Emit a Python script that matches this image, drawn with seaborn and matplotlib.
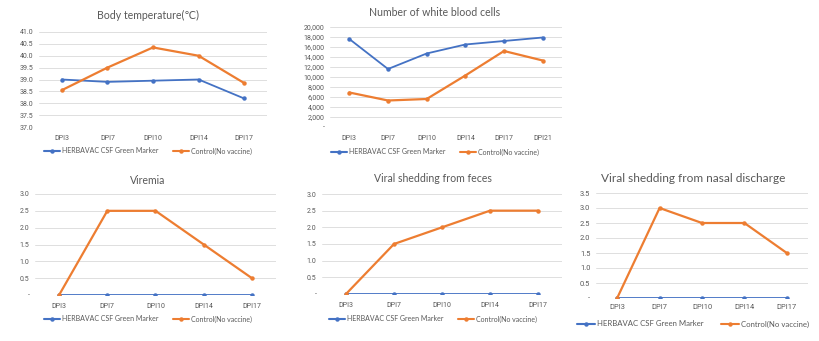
import matplotlib
matplotlib.use("Agg")
import matplotlib.pyplot as plt
import seaborn as sns
import pandas as pd

sns.set_theme(style="white")
plt.rcParams["font.family"] = ["Lato", "DejaVu Sans"]

# ---- data ----
days5 = ["DPI3", "DPI7", "DPI10", "DPI14", "DPI17"]
days6 = ["DPI3", "DPI7", "DPI10", "DPI14", "DPI17", "DPI21"]
series_names = ["HERBAVAC CSF Green Marker", "Control(No vaccine)"]

temp_vac = [39.0, 38.9, 38.95, 39.0, 38.2]
temp_ctl = [38.55, 39.5, 40.35, 40.0, 38.85]

wbc_vac = [17600, 11600, 14700, 16500, 17200, 17900]
wbc_ctl = [6900, 5300, 5600, 10300, 15200, 13300]

viremia_vac = [0, 0, 0, 0, 0]
viremia_ctl = [0, 2.5, 2.5, 1.5, 0.5]

feces_vac = [0, 0, 0, 0, 0]
feces_ctl = [0, 1.5, 2.0, 2.5, 2.5]

nasal_vac = [0, 0, 0, 0, 0]
nasal_ctl = [0, 3.0, 2.5, 2.5, 1.5]

temp_ticks = [37.0, 37.5, 38.0, 38.5, 39.0, 39.5, 40.0, 40.5, 41.0]
wbc_ticks = [0, 2000, 4000, 6000, 8000, 10000, 12000, 14000, 16000, 18000, 20000]
score_ticks3 = [0, 0.5, 1.0, 1.5, 2.0, 2.5, 3.0]
score_ticks35 = [0, 0.5, 1.0, 1.5, 2.0, 2.5, 3.0, 3.5]

BLUE = "#4472C4"
ORANGE = "#ED7D31"
GRID = "#D9D9D9"
TXT = "#595959"
TICK_FONT = ["Roboto", "DejaVu Sans"]

W, H = 820, 341
fig = plt.figure(figsize=(W / 100, H / 100), dpi=100)
fig.patch.set_facecolor("white")


def px_axes(x0, y0, x1, y1):
    return fig.add_axes([x0 / W, 1 - y1 / H, (x1 - x0) / W, (y1 - y0) / H])


def fmt_tick(v, kind):
    if kind == "temp":
        return f"{v:.1f}"
    if v == 0:
        return "-"
    if kind == "wbc":
        return f"{int(v):,}"
    return f"{v:.1f}"


def panel(box, title, title_xy, title_size, cats, vac, ctl, ticks, kind,
          leg_y, tick_size=5, leg_size=5, xpad=6):
    ax = px_axes(*box)
    df = pd.DataFrame({
        "day": cats * 2,
        "value": list(vac) + list(ctl),
        "group": [series_names[0]] * len(cats) + [series_names[1]] * len(cats),
    })
    sns.lineplot(data=df, x="day", y="value", hue="group", sort=False,
                 palette=[BLUE, ORANGE], marker="o", markersize=3.2,
                 markeredgewidth=0, ax=ax, legend=True)
    for ln, lw in zip(ax.lines[:2], [1.3, 1.6]):
        ln.set_linewidth(lw)
    ax.set_xlim(-0.5, len(cats) - 0.5)
    ax.set_ylim(ticks[0], ticks[-1])
    ax.set_yticks(ticks)
    ax.set_yticklabels([fmt_tick(t, kind) for t in ticks])
    ax.set_xticks(range(len(cats)))
    ax.set_xticklabels(cats)
    ax.set_xlabel("")
    ax.set_ylabel("")
    ax.grid(axis="y", color=GRID, linewidth=0.6)
    ax.set_axisbelow(True)
    for s in ax.spines.values():
        s.set_visible(False)
    ax.tick_params(axis="both", length=0, labelsize=tick_size, colors=TXT)
    ax.tick_params(axis="x", pad=xpad)
    ax.tick_params(axis="y", pad=4)
    for lbl in ax.get_xticklabels() + ax.get_yticklabels():
        lbl.set_color(TXT)
        lbl.set_family(TICK_FONT)
    ax.set_facecolor("white")
    # legend below the plot area, centred under the title
    h, l = ax.get_legend_handles_labels()
    ax.legend(h, l, loc="center", ncol=2, frameon=False,
              bbox_to_anchor=(title_xy[0] / W, 1 - leg_y / H),
              bbox_transform=fig.transFigure, fontsize=leg_size,
              handlelength=2.3, columnspacing=2.2, handletextpad=0.3,
              labelcolor=TXT)
    fig.text(title_xy[0] / W, 1 - title_xy[1] / H, title, ha="center",
             va="center", fontsize=title_size, color=TXT)
    return ax


panel((39, 32, 267, 127), "Body temperature(\u2103)", (148, 15), 7.6,
      days5, temp_vac, temp_ctl, temp_ticks, "temp", 151)
panel((330, 27, 562, 127), "Number of white blood cells", (435, 13), 7.6,
      days6, wbc_vac, wbc_ctl, wbc_ticks, "wbc", 152)
panel((35, 194, 276, 295), "Viremia", (148, 180), 7.6,
      days5, viremia_vac, viremia_ctl, score_ticks3, "score", 319)
panel((322, 194, 562, 294), "Viral shedding from feces", (433, 179), 7.6,
      days5, feces_vac, feces_ctl, score_ticks3, "score", 319)
panel((596, 193, 808, 298), "Viral shedding from nasal discharge", (693, 178), 8.6,
      days5, nasal_vac, nasal_ctl, score_ticks35, "score", 324,
      tick_size=5.4, leg_size=5.6, xpad=4.5)

fig.savefig("out.png", dpi=100, facecolor="white")
